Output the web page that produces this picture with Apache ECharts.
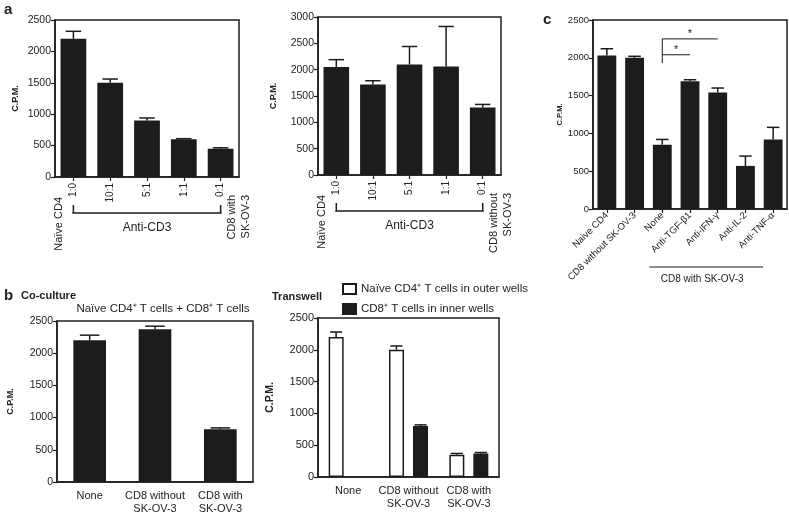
<!DOCTYPE html>
<html><head><meta charset="utf-8">
<script src="https://cdn.jsdelivr.net/npm/echarts@6/dist/echarts.min.js"></script>
<style>html,body{margin:0;padding:0;background:#fff}#c{width:789px;height:515px}</style>
</head><body><div id="c"></div>
<script>
// ---- data ----
const aLeftCats = ['1:0', '10:1', '5:1', '1:1', '0:1'];
const aLeftVals = [2200, 1500, 900, 600, 450];
const aLeftErr = [120, 60, 40, 10, 15];
const aLeftTicks = [0, 500, 1000, 1500, 2000, 2500];

const aRightCats = ['1:0', '10:1', '5:1', '1:1', '0:1'];
const aRightVals = [2050, 1720, 2100, 2060, 1280];
const aRightErr = [140, 70, 340, 760, 60];
const aRightTicks = [0, 500, 1000, 1500, 2000, 2500, 3000];

const cCats = ['Naive CD4', 'CD8 without SK-OV-3', 'None', 'Anti-TGF-β1', 'Anti-IFN-γ', 'Anti-IL-2', 'Anti-TNF-α'];
const cVals = [2030, 2000, 850, 1690, 1540, 570, 920];
const cErr = [90, 20, 70, 20, 60, 130, 160];
const cTicks = [0, 500, 1000, 1500, 2000, 2500];

const bLeftCats = ['None', 'CD8 without\nSK-OV-3', 'CD8 with\nSK-OV-3'];
const bLeftVals = [2200, 2370, 820];
const bLeftErr = [80, 50, 20];

const bRightCats = ['None', 'CD8 without\nSK-OV-3', 'CD8 with\nSK-OV-3'];
const outerName = 'Naïve CD4⁺ T cells in outer wells';
const innerName = 'CD8⁺ T cells in inner wells';
const outerVals = [2200, 2000, 350];
const outerErr = [80, 60, 20];
const innerVals = [null, 800, 370];
const innerErr = [null, 20, 15];
const bTicks = [0, 500, 1000, 1500, 2000, 2500];

// ---- helpers ----
const INK = '#1c1c1c';
const TXT = '#222';
const FONT = 'Liberation Sans, Arial, sans-serif';

function errSeries(idx, vals, errs, capFrac, offFrac) {
  const data = [];
  vals.forEach((v, i) => { if (v != null) data.push([i, v, v + errs[i]]); });
  return {
    type: 'custom', xAxisIndex: idx, yAxisIndex: idx, z: 5, silent: true,
    data: data, encode: { x: 0, y: [1, 2] },
    renderItem(params, api) {
      const i = api.value(0);
      const p0 = api.coord([i, api.value(1)]);
      const p1 = api.coord([i, api.value(2)]);
      const cw = api.size([1, 0])[0];
      const cx = p0[0] + offFrac * cw;
      const cap = capFrac * cw / 2;
      return { type: 'group', children: [
        { type: 'line', shape: { x1: cx, y1: p0[1], x2: cx, y2: p1[1] }, style: { stroke: INK, lineWidth: 1.5 } },
        { type: 'line', shape: { x1: cx - cap, y1: p1[1], x2: cx + cap, y2: p1[1] }, style: { stroke: INK, lineWidth: 1.5 } }
      ] };
    }
  };
}

function yAx(idx, ticks, fs, nameFs, gap) {
  return {
    gridIndex: idx, type: 'value', min: ticks[0], max: ticks[ticks.length - 1], interval: 500,
    name: 'C.P.M.', nameLocation: 'middle', nameRotate: 90, nameGap: gap,
    nameTextStyle: { fontWeight: 'bold', fontSize: nameFs, color: TXT, fontFamily: FONT },
    axisLine: { show: true, lineStyle: { color: INK, width: 1.5 } },
    axisTick: { show: true, length: 4, lineStyle: { color: INK, width: 1.2 } },
    axisLabel: { fontSize: fs, color: TXT, fontFamily: FONT, margin: 4, formatter: v => String(v) },
    splitLine: { show: false }
  };
}
function xAx(idx, cats, opts) {
  return Object.assign({
    gridIndex: idx, type: 'category', data: cats,
    axisLine: { show: true, lineStyle: { color: INK, width: 1.5 } },
    axisTick: { show: true, alignWithLabel: true, length: 4, lineStyle: { color: INK, width: 1.2 } },
    axisLabel: { fontSize: 10, color: TXT, fontFamily: FONT, interval: 0 }
  }, opts);
}
const gridBase = { show: true, borderColor: INK, borderWidth: 1.5, backgroundColor: 'transparent' };

const option = {
  animation: false,
  textStyle: { fontFamily: FONT },
  grid: [
    Object.assign({ left: 55, top: 20, width: 184, height: 157 }, gridBase),
    Object.assign({ left: 318, top: 17, width: 183, height: 158 }, gridBase),
    Object.assign({ left: 593, top: 20, width: 194, height: 189 }, gridBase),
    Object.assign({ left: 57, top: 321, width: 196, height: 161 }, gridBase),
    Object.assign({ left: 318, top: 318, width: 181, height: 159 }, gridBase)
  ],
  xAxis: [
    xAx(0, aLeftCats, { axisLabel: { rotate: 90, fontSize: 10, color: TXT, fontFamily: FONT, interval: 0, margin: 6 } }),
    xAx(1, aRightCats, { axisLabel: { rotate: 90, fontSize: 10, color: TXT, fontFamily: FONT, interval: 0, margin: 6 } }),
    xAx(2, cCats, { axisLabel: { rotate: 45, fontSize: 9.5, color: TXT, fontFamily: FONT, interval: 0, margin: 5 } }),
    xAx(3, bLeftCats, { axisTick: { show: false }, axisLabel: { fontSize: 11, lineHeight: 13, color: TXT, fontFamily: FONT, interval: 0, margin: 7 } }),
    xAx(4, bRightCats, { axisTick: { show: false }, axisLabel: { fontSize: 11, lineHeight: 13, color: TXT, fontFamily: FONT, interval: 0, margin: 7 } })
  ],
  yAxis: [
    yAx(0, aLeftTicks, 10.5, 9, 35),
    yAx(1, aRightTicks, 10.5, 9, 40),
    yAx(2, cTicks, 9.5, 7.5, 28),
    yAx(3, bTicks, 10.5, 9, 42),
    yAx(4, bTicks, 11, 10.5, 42)
  ],
  legend: {
    data: [
      { name: outerName, icon: 'rect' },
      { name: innerName, icon: 'rect' }
    ],
    orient: 'vertical', left: 342, top: 283, padding: 0,
    itemWidth: 13, itemHeight: 10, itemGap: 8,
    textStyle: { fontSize: 11.5, color: TXT, fontFamily: FONT }
  },
  series: [
    { type: 'bar', xAxisIndex: 0, yAxisIndex: 0, data: aLeftVals, barWidth: '70%', itemStyle: { color: INK } },
    errSeries(0, aLeftVals, aLeftErr, 0.42, 0),
    { type: 'bar', xAxisIndex: 1, yAxisIndex: 1, data: aRightVals, barWidth: '70%', itemStyle: { color: INK } },
    errSeries(1, aRightVals, aRightErr, 0.42, 0),
    { type: 'bar', xAxisIndex: 2, yAxisIndex: 2, data: cVals, barWidth: '68%', itemStyle: { color: INK } },
    errSeries(2, cVals, cErr, 0.45, 0),
    { type: 'bar', xAxisIndex: 3, yAxisIndex: 3, data: bLeftVals, barWidth: '50%', itemStyle: { color: INK } },
    errSeries(3, bLeftVals, bLeftErr, 0.3, 0),
    { name: outerName, type: 'bar', xAxisIndex: 4, yAxisIndex: 4, data: outerVals, barWidth: 15, barGap: '60%',
      itemStyle: { color: '#fff', borderColor: INK, borderWidth: 1.5 } },
    { name: innerName, type: 'bar', xAxisIndex: 4, yAxisIndex: 4, data: innerVals.map(v => v == null ? '-' : v), barWidth: 15, barGap: '60%',
      itemStyle: { color: INK, borderColor: INK, borderWidth: 1.5 } },
    errSeries(4, outerVals, outerErr, 0.2, -0.2),
    errSeries(4, innerVals, innerErr, 0.2, 0.2)
  ]
};

const chart = echarts.init(document.getElementById('c'), null, { renderer: 'canvas' });
chart.setOption(option);

function px(g, cat, val) { return chart.convertToPixel({ xAxisIndex: g, yAxisIndex: g }, [cat, val]); }
function txt(x, y, text, o) {
  return Object.assign({ type: 'text', x: x, y: y, style: Object.assign({ text: text, fill: TXT, font: '11px ' + FONT, textAlign: 'left', textVerticalAlign: 'middle' }, (o && o.style) || {}) }, o ? { rotation: o.rotation || 0 } : {});
}
function ln(x1, y1, x2, y2, w) {
  return { type: 'line', shape: { x1, y1, x2, y2 }, style: { stroke: INK, lineWidth: w || 1.5 } };
}

const g = [];
// panel letters
g.push(txt(4, 10, 'a', { style: { font: 'bold 15px ' + FONT } }));
g.push(txt(4, 296, 'b', { style: { font: 'bold 15px ' + FONT } }));
g.push(txt(543, 20, 'c', { style: { font: 'bold 15px ' + FONT } }));

// panel a brackets and rotated labels
[[0, 'CD8 with\nSK-OV-3'], [1, 'CD8 without\nSK-OV-3']].forEach(([gi, lastLab]) => {
  const p0 = px(gi, 0, 0), p4 = px(gi, 4, 0);
  const yb = p0[1] + 36;
  g.push(txt(p0[0] - 14, p0[1] + 20, 'Naïve CD4', { rotation: Math.PI / 2, style: { font: '11px ' + FONT, textAlign: 'right', textVerticalAlign: 'middle' } }));
  g.push(txt(p4[0] + 4, p0[1] + 18, lastLab, { rotation: Math.PI / 2, style: { font: '11px ' + FONT, textAlign: 'right', textVerticalAlign: 'top', lineHeight: 14 } }));
  g.push(ln(p0[0] - 1, yb, p4[0] + 1, yb));
  g.push(ln(p0[0], yb - 8, p0[0], yb));
  g.push(ln(p4[0], yb - 8, p4[0], yb));
  g.push(txt((p0[0] + p4[0]) / 2, yb + 15, 'Anti-CD3', { style: { font: '12px ' + FONT, textAlign: 'center' } }));
});

// panel c significance and group line
(function () {
  const n = px(2, 2, 1930), top = px(2, 2, 2250), mid = px(2, 2, 2040);
  const tgf = px(2, 3, 0), ifn = px(2, 4, 0), tnf = px(2, 6, 0);
  g.push(ln(n[0], n[1], n[0], top[1], 1));
  g.push(ln(n[0], top[1], ifn[0], top[1], 1));
  g.push(ln(n[0], mid[1], tgf[0], mid[1], 1));
  g.push(txt((n[0] + tgf[0]) / 2, mid[1] - 5, '*', { style: { font: '11px ' + FONT, textAlign: 'center' } }));
  g.push(txt((n[0] + ifn[0]) / 2, top[1] - 5, '*', { style: { font: '11px ' + FONT, textAlign: 'center' } }));
  const x1 = n[0] - 13, x2 = tnf[0] - 10;
  g.push(ln(x1, 267, x2, 267, 1.2));
  g.push(txt((x1 + x2) / 2 - 4, 279, 'CD8 with SK-OV-3', { style: { font: '10px ' + FONT, textAlign: 'center' } }));
})();

// panel b titles
g.push(txt(21, 296, 'Co-culture', { style: { font: 'bold 11px ' + FONT } }));
g.push(txt(163, 309, 'Naïve CD4⁺ T cells + CD8⁺ T cells', { style: { font: '11.5px ' + FONT, textAlign: 'center' } }));
g.push(txt(272, 297, 'Transwell', { style: { font: 'bold 11px ' + FONT } }));

chart.setOption({ graphic: { elements: g } });
</script>
</body></html>
